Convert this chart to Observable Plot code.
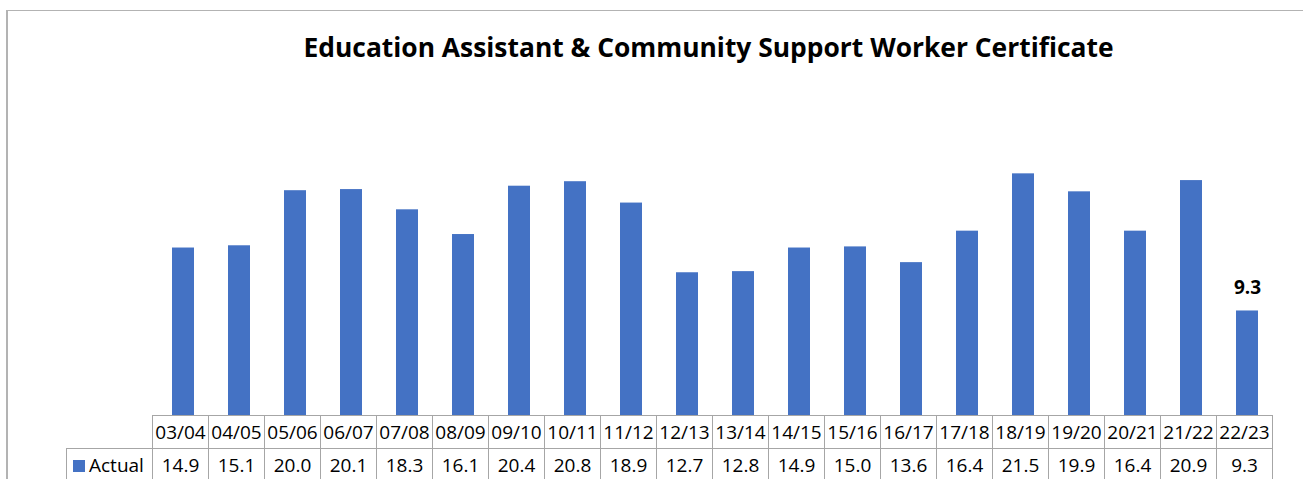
<!DOCTYPE html>
<html>
<head>
<meta charset="utf-8">
<script src="https://cdn.jsdelivr.net/npm/d3@7"></script>
<script src="https://cdn.jsdelivr.net/npm/@observablehq/plot@0.6"></script>
<style>
  html, body { margin: 0; padding: 0; background: #fff; }
  #wrap { position: relative; width: 1303px; height: 479px; overflow: hidden; font-family: "Open Sans", Carlito, Calibri, sans-serif; }
  #frameTop { position: absolute; left: 6px; top: 10px; right: 0; height: 1px; background: #b3b3b3; }
  #frameLeft { position: absolute; left: 6px; top: 10px; bottom: 0; width: 2px; background: #b3b3b3; }
  #title { position: absolute; left: 0; width: 1417px; top: 29px; text-align: center; font-weight: 700; font-size: 26.4px; color: #000; white-space: nowrap; }
  #chart { position: absolute; left: 0; top: 0; }
  .cell { position: absolute; box-sizing: border-box; border: 1px solid #a6a6a6; text-align: center; font-size: 19px; color: #000; white-space: nowrap; }
</style>
</head>
<body>
<div id="wrap">
  <div id="frameTop"></div>
  <div id="frameLeft"></div>
  <div id="title">Education Assistant &amp; Community Support Worker Certificate</div>
  <div id="chart"></div>
  <div id="table"></div>
</div>
<script>
const years = ["03/04","04/05","05/06","06/07","07/08","08/09","09/10","10/11","11/12","12/13","13/14","14/15","15/16","16/17","17/18","18/19","19/20","20/21","21/22","22/23"];
const actual = [14.9,15.1,20.0,20.1,18.3,16.1,20.4,20.8,18.9,12.7,12.8,14.9,15.0,13.6,16.4,21.5,19.9,16.4,20.9,9.3];
const seriesName = "Actual";
const labelledYear = "22/23";

const data = years.map((y, i) => ({year: y, value: actual[i]}));
const W = 1303, left = 152, right = 24;
const color = "#4472C4";

const plot = Plot.plot({
  width: W,
  height: 415,
  marginLeft: left,
  marginRight: right,
  marginTop: 134,
  marginBottom: 0,
  x: {domain: years, paddingInner: 0.6, paddingOuter: 0.3, axis: null},
  y: {domain: [0, 25], axis: null},
  style: {background: "transparent", overflow: "visible"},
  marks: [
    Plot.barY(data, {x: "year", y: "value", fill: color}),
    Plot.text(data.filter(d => d.year === labelledYear), {
      x: "year", y: "value", text: d => d.value.toFixed(1), dy: -23,
      fontSize: 19, fontWeight: 700, fill: "#000",
      fontFamily: "'Open Sans', Carlito, Calibri, sans-serif"
    })
  ]
});
document.getElementById("chart").appendChild(plot);

// Data table aligned to the band scale
const xs = plot.scale("x");
const step = xs.step;
const table = document.getElementById("table");
const rowTop1 = 415, rowH = 33, rowTop2 = rowTop1 + rowH;
function cell(x, y, w, h, html, extra) {
  const d = document.createElement("div");
  d.className = "cell";
  d.style.left = x + "px"; d.style.top = y + "px";
  d.style.width = (w + 1) + "px"; d.style.height = (h + 1) + "px";
  d.style.lineHeight = (h - 1) + "px";
  if (extra) Object.assign(d.style, extra);
  d.innerHTML = html;
  table.appendChild(d);
}
years.forEach((y, i) => {
  const x0 = Math.round(left + i * step);
  const x1 = Math.round(left + (i + 1) * step);
  cell(x0, rowTop1, x1 - x0, rowH, y);
  cell(x0, rowTop2, x1 - x0, rowH, actual[i].toFixed(1));
});
cell(66, rowTop2, left - 66, rowH,
  `<span style="display:inline-block;width:12px;height:12px;background:${color};margin-right:4px;vertical-align:0px"></span>${seriesName}`,
  {textAlign: "left", paddingLeft: "6px"});
</script>
</body>
</html>
